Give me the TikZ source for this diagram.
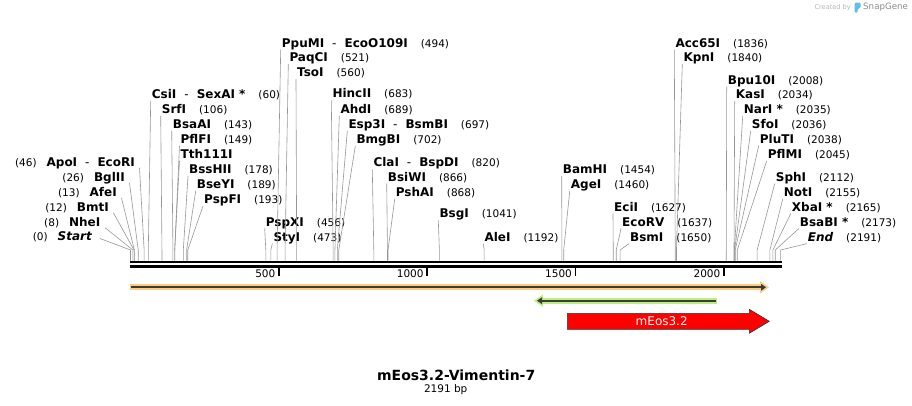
\documentclass[tikz,border=0pt]{standalone}
\usepackage{fontspec}
\setmainfont{DejaVu Sans}
\usepackage{xcolor}
\usetikzlibrary{arrows.meta}
\definecolor{cutgray}{RGB}{150,150,150}
\definecolor{featorange}{RGB}{250,205,130}
\definecolor{featgreen}{RGB}{185,240,130}
\definecolor{featline}{RGB}{60,60,50}
\definecolor{wmgray}{RGB}{180,180,180}
\definecolor{wmblue}{RGB}{95,190,235}
\newcommand{\enz}[1]{{\bfseries#1}}
\newcommand{\cutpos}[1]{{\fontsize{10.5}{12}\selectfont(#1)}}
\newcommand{\alsocut}{\hspace{8pt}{\mdseries-}\hspace{8pt}}
\newcommand{\posgap}{\hspace{13pt}}
\tikzset{
  enzR/.style={anchor=west, inner sep=0pt, text height=8.7pt, text depth=0pt, font=\fontsize{12}{14}\selectfont},
  enzL/.style={anchor=east, inner sep=0pt, text height=8.7pt, text depth=0pt, font=\fontsize{12}{14}\selectfont},
  cutline/.style={draw=cutgray, line width=0.6pt},
  seqline/.style={line width=2.7pt, line cap=butt},
  ticklab/.style={anchor=east, inner sep=0pt, font=\fontsize{10.5}{12}\selectfont}
}

\begin{document}
\begin{tikzpicture}[x=1pt, y=-1pt, line cap=round, line join=round]
	\useasboundingbox (0,0) rectangle (912,406);
	% sequence
	\coordinate (bar) at (130,260.5);
	\draw[seqline] (129.5,262) -- (782,262);
	\draw[seqline] (129.5,266.3) -- (782,266.3);
	\draw[line width=1.6pt, line cap=butt] (278.9,267) -- (278.9,276);
	\draw[line width=1.6pt, line cap=butt] (427.2,267) -- (427.2,276);
	\draw[line width=1.6pt, line cap=butt] (575.5,267) -- (575.5,276);
	\draw[line width=1.6pt, line cap=butt] (723.9,267) -- (723.9,276);
	\node[ticklab] (t500) at (275.5,274) {500};
	\node[ticklab] (t1000) at (423.8,274) {1000};
	\node[ticklab] (t1500) at (572.1,274) {1500};
	\node[ticklab] (t2000) at (720.5,274) {2000};
	% cut sites
	\coordinate (cStart) at ({130.5+0.2967*0},250);
	\coordinate (cNheI) at ({130.5+0.2967*8},250);
	\coordinate (cBmtI) at ({130.5+0.2967*12},250);
	\coordinate (cAfeI) at ({130.5+0.2967*13},250);
	\coordinate (cBglII) at ({130.5+0.2967*26},250);
	\coordinate (cApoI) at ({130.5+0.2967*46},250);
	\coordinate (cCsiI) at ({130.5+0.2967*60},250);
	\coordinate (cSrfI) at ({130.5+0.2967*106},250);
	\coordinate (cBsaAI) at ({130.5+0.2967*143},250);
	\coordinate (cPflFI) at ({130.5+0.2967*149},250);
	\coordinate (cBssHII) at ({130.5+0.2967*178},250);
	\coordinate (cBseYI) at ({130.5+0.2967*189},250);
	\coordinate (cPspFI) at ({130.5+0.2967*193},250);
	\coordinate (cPspXI) at ({130.5+0.2967*456},250);
	\coordinate (cStyI) at ({130.5+0.2967*473},250);
	\coordinate (cPpuMI) at ({130.5+0.2967*494},250);
	\coordinate (cPaqCI) at ({130.5+0.2967*521},250);
	\coordinate (cTsoI) at ({130.5+0.2967*560},250);
	\coordinate (cHincII) at ({130.5+0.2967*683},250);
	\coordinate (cAhdI) at ({130.5+0.2967*689},250);
	\coordinate (cEsp3I) at ({130.5+0.2967*697},250);
	\coordinate (cBmgBI) at ({130.5+0.2967*702},250);
	\coordinate (cClaI) at ({130.5+0.2967*820},250);
	\coordinate (cBsiWI) at ({130.5+0.2967*866},250);
	\coordinate (cPshAI) at ({130.5+0.2967*868},250);
	\coordinate (cBsgI) at ({130.5+0.2967*1041},250);
	\coordinate (cAleI) at ({130.5+0.2967*1192},250);
	\coordinate (cBamHI) at ({130.5+0.2967*1454},250);
	\coordinate (cAgeI) at ({130.5+0.2967*1460},250);
	\coordinate (cEciI) at ({130.5+0.2967*1627},250);
	\coordinate (cEcoRV) at ({130.5+0.2967*1637},250);
	\coordinate (cBsmI) at ({130.5+0.2967*1650},250);
	\coordinate (cAcc65I) at ({130.5+0.2967*1836},250);
	\coordinate (cKpnI) at ({130.5+0.2967*1840},250);
	\coordinate (cBpu10I) at ({130.5+0.2967*2008},250);
	\coordinate (cKasI) at ({130.5+0.2967*2034},250);
	\coordinate (cNarI) at ({130.5+0.2967*2035},250);
	\coordinate (cSfoI) at ({130.5+0.2967*2036},250);
	\coordinate (cPluTI) at ({130.5+0.2967*2038},250);
	\coordinate (cPflMI) at ({130.5+0.2967*2045},250);
	\coordinate (cSphI) at ({130.5+0.2967*2112},250);
	\coordinate (cNotI) at ({130.5+0.2967*2155},250);
	\coordinate (cXbaI) at ({130.5+0.2967*2165},250);
	\coordinate (cBsaBI) at ({130.5+0.2967*2173},250);
	\coordinate (cEnd) at ({130.5+0.2967*2191},250);
	% labels left of the map
	\node[enzL] (ApoI) at (135,162) {\cutpos{46}\hspace{10pt}\enz{ApoI\alsocut EcoRI}};
	\node[enzL] (BglII) at (125,177) {\cutpos{26}\hspace{10pt}\enz{BglII}};
	\node[enzL] (AfeI) at (117,192) {\cutpos{13}\hspace{10pt}\enz{AfeI}};
	\node[enzL] (BmtI) at (109,207) {\cutpos{12}\hspace{10pt}\enz{BmtI}};
	\node[enzL] (NheI) at (100.5,221.7) {\cutpos{8}\hspace{10pt}\enz{NheI}};
	\node[enzL] (Start) at (92,236.5) {\cutpos{0}\hspace{10pt}\enz{\itshape Start}};
	% labels right of their lines
	\node[enzR] (CsiI) at (151.7,94) {\enz{CsiI\alsocut SexAI *}\posgap\cutpos{60}};
	\node[enzR] (SrfI) at (161.7,109.3) {\enz{SrfI}\posgap\cutpos{106}};
	\node[enzR] (BsaAI) at (172.7,124) {\enz{BsaAI}\posgap\cutpos{143}};
	\node[enzR] (PflFI) at (180.5,139) {\enz{PflFI}\posgap\cutpos{149}};
	\node[enzR] (Tth111I) at (180.5,154) {\enz{Tth111I}};
	\node[enzR] (BssHII) at (189,169.3) {\enz{BssHII}\posgap\cutpos{178}};
	\node[enzR] (BseYI) at (196.7,184) {\enz{BseYI}\posgap\cutpos{189}};
	\node[enzR] (PspFI) at (204,199) {\enz{PspFI}\posgap\cutpos{193}};
	\node[enzR] (PspXI) at (265.7,221.7) {\enz{PspXI}\posgap\cutpos{456}};
	\node[enzR] (StyI) at (273.3,236.7) {\enz{StyI}\posgap\cutpos{473}};
	\node[enzR] (PpuMI) at (281.7,42.7) {\enz{PpuMI\alsocut EcoO109I}\posgap\cutpos{494}};
	\node[enzR] (PaqCI) at (289.3,57.3) {\enz{PaqCI}\posgap\cutpos{521}};
	\node[enzR] (TsoI) at (297,72.3) {\enz{TsoI}\posgap\cutpos{560}};
	\node[enzR] (HincII) at (332.3,93.5) {\enz{HincII}\posgap\cutpos{683}};
	\node[enzR] (AhdI) at (340.3,109) {\enz{AhdI}\posgap\cutpos{689}};
	\node[enzR] (Esp3I) at (348.3,124) {\enz{Esp3I\alsocut BsmBI}\posgap\cutpos{697}};
	\node[enzR] (BmgBI) at (356.3,139) {\enz{BmgBI}\posgap\cutpos{702}};
	\node[enzR] (ClaI) at (373.3,162.5) {\enz{ClaI\alsocut BspDI}\posgap\cutpos{820}};
	\node[enzR] (BsiWI) at (387.7,176.7) {\enz{BsiWI}\posgap\cutpos{866}};
	\node[enzR] (PshAI) at (395.7,192) {\enz{PshAI}\posgap\cutpos{868}};
	\node[enzR] (BsgI) at (439.3,213.5) {\enz{BsgI}\posgap\cutpos{1041}};
	\node[enzR] (AleI) at (484.3,237) {\enz{AleI}\posgap\cutpos{1192}};
	\node[enzR] (BamHI) at (562.7,169.3) {\enz{BamHI}\posgap\cutpos{1454}};
	\node[enzR] (AgeI) at (570.7,184.3) {\enz{AgeI}\posgap\cutpos{1460}};
	\node[enzR] (EciI) at (614,206.7) {\enz{EciI}\posgap\cutpos{1627}};
	\node[enzR] (EcoRV) at (622,221.7) {\enz{EcoRV}\posgap\cutpos{1637}};
	\node[enzR] (BsmI) at (630,236.7) {\enz{BsmI}\posgap\cutpos{1650}};
	\node[enzR] (Acc65I) at (675.3,42.7) {\enz{Acc65I}\posgap\cutpos{1836}};
	\node[enzR] (KpnI) at (683.3,57.3) {\enz{KpnI}\posgap\cutpos{1840}};
	\node[enzR] (Bpu10I) at (727.7,80) {\enz{Bpu10I}\posgap\cutpos{2008}};
	\node[enzR] (KasI) at (735.7,94.3) {\enz{KasI}\posgap\cutpos{2034}};
	\node[enzR] (NarI) at (743.7,109.3) {\enz{NarI *}\posgap\cutpos{2035}};
	\node[enzR] (SfoI) at (751.7,124) {\enz{SfoI}\posgap\cutpos{2036}};
	\node[enzR] (PluTI) at (759.7,138.7) {\enz{PluTI}\posgap\cutpos{2038}};
	\node[enzR] (PflMI) at (767.7,154) {\enz{PflMI}\posgap\cutpos{2045}};
	\node[enzR] (SphI) at (775.7,176.7) {\enz{SphI}\posgap\cutpos{2112}};
	\node[enzR] (NotI) at (783.7,192) {\enz{NotI}\posgap\cutpos{2155}};
	\node[enzR] (XbaI) at (791.7,206.7) {\enz{XbaI *}\posgap\cutpos{2165}};
	\node[enzR] (BsaBI) at (799.7,221.7) {\enz{BsaBI *}\posgap\cutpos{2173}};
	\node[enzR] (End) at (807.7,236.7) {\enz{\itshape End}\posgap\cutpos{2191}};
	% lines from labels to the sites
	\draw[cutline] ([shift={(4.5,6)}]ApoI.east) -- (cApoI) -- (cApoI |- bar);
	\draw[cutline] ([shift={(4.5,6)}]BglII.east) -- (cBglII) -- (cBglII |- bar);
	\draw[cutline] ([shift={(4.5,6)}]AfeI.east) -- (cAfeI) -- (cAfeI |- bar);
	\draw[cutline] ([shift={(4.5,6)}]BmtI.east) -- (cBmtI) -- (cBmtI |- bar);
	\draw[cutline] ([shift={(4.5,6)}]NheI.east) -- (cNheI) -- (cNheI |- bar);
	\draw[cutline] ([shift={(8,2)}]Start.east) -- (cStart) -- (cStart |- bar);
	\draw[cutline] ([shift={(-1,7)}]CsiI.west) -- (cCsiI) -- (cCsiI |- bar);
	\draw[cutline] ([shift={(-1,7)}]SrfI.west) -- (cSrfI) -- (cSrfI |- bar);
	\draw[cutline] ([shift={(-1,7)}]BsaAI.west) -- (cBsaAI) -- (cBsaAI |- bar);
	\draw[cutline] ([shift={(-1,7)}]PflFI.west) -- (cPflFI) -- (cPflFI |- bar);
	\draw[cutline] ([shift={(-1,7)}]Tth111I.west) -- (cPflFI);
	\draw[cutline] ([shift={(-1,7)}]BssHII.west) -- (cBssHII) -- (cBssHII |- bar);
	\draw[cutline] ([shift={(-1,7)}]BseYI.west) -- (cBseYI) -- (cBseYI |- bar);
	\draw[cutline] ([shift={(-1,7)}]PspFI.west) -- (cPspFI) -- (cPspFI |- bar);
	\draw[cutline] ([shift={(-1,7)}]PspXI.west) -- (cPspXI) -- (cPspXI |- bar);
	\draw[cutline] ([shift={(-1,7)}]StyI.west) -- (cStyI) -- (cStyI |- bar);
	\draw[cutline] ([shift={(-1,7)}]PpuMI.west) -- (cPpuMI) -- (cPpuMI |- bar);
	\draw[cutline] ([shift={(-1,7)}]PaqCI.west) -- (cPaqCI) -- (cPaqCI |- bar);
	\draw[cutline] ([shift={(-1,7)}]TsoI.west) -- (cTsoI) -- (cTsoI |- bar);
	\draw[cutline] ([shift={(-1,7)}]HincII.west) -- (cHincII) -- (cHincII |- bar);
	\draw[cutline] ([shift={(-1,7)}]AhdI.west) -- (cAhdI) -- (cAhdI |- bar);
	\draw[cutline] ([shift={(-1,7)}]Esp3I.west) -- (cEsp3I) -- (cEsp3I |- bar);
	\draw[cutline] ([shift={(-1,7)}]BmgBI.west) -- (cBmgBI) -- (cBmgBI |- bar);
	\draw[cutline] ([shift={(-1,7)}]ClaI.west) -- (cClaI) -- (cClaI |- bar);
	\draw[cutline] ([shift={(-1,7)}]BsiWI.west) -- (cBsiWI) -- (cBsiWI |- bar);
	\draw[cutline] ([shift={(-1,7)}]PshAI.west) -- (cPshAI) -- (cPshAI |- bar);
	\draw[cutline] ([shift={(-1,7)}]BsgI.west) -- (cBsgI) -- (cBsgI |- bar);
	\draw[cutline] ([shift={(-1,7)}]AleI.west) -- (cAleI) -- (cAleI |- bar);
	\draw[cutline] ([shift={(-1,7)}]BamHI.west) -- (cBamHI) -- (cBamHI |- bar);
	\draw[cutline] ([shift={(-1,7)}]AgeI.west) -- (cAgeI) -- (cAgeI |- bar);
	\draw[cutline] ([shift={(-1,7)}]EciI.west) -- (cEciI) -- (cEciI |- bar);
	\draw[cutline] ([shift={(-1,7)}]EcoRV.west) -- (cEcoRV) -- (cEcoRV |- bar);
	\draw[cutline] ([shift={(-1,7)}]BsmI.west) -- (cBsmI) -- (cBsmI |- bar);
	\draw[cutline] ([shift={(-1,7)}]Acc65I.west) -- (cAcc65I) -- (cAcc65I |- bar);
	\draw[cutline] ([shift={(-1,7)}]KpnI.west) -- (cKpnI) -- (cKpnI |- bar);
	\draw[cutline] ([shift={(-1,7)}]Bpu10I.west) -- (cBpu10I) -- (cBpu10I |- bar);
	\draw[cutline] ([shift={(-1,7)}]KasI.west) -- (cKasI) -- (cKasI |- bar);
	\draw[cutline] ([shift={(-1,7)}]NarI.west) -- (cNarI) -- (cNarI |- bar);
	\draw[cutline] ([shift={(-1,7)}]SfoI.west) -- (cSfoI) -- (cSfoI |- bar);
	\draw[cutline] ([shift={(-1,7)}]PluTI.west) -- (cPluTI) -- (cPluTI |- bar);
	\draw[cutline] ([shift={(-1,7)}]PflMI.west) -- (cPflMI) -- (cPflMI |- bar);
	\draw[cutline] ([shift={(-1,7)}]SphI.west) -- (cSphI) -- (cSphI |- bar);
	\draw[cutline] ([shift={(-1,7)}]NotI.west) -- (cNotI) -- (cNotI |- bar);
	\draw[cutline] ([shift={(-1,7)}]XbaI.west) -- (cXbaI) -- (cXbaI |- bar);
	\draw[cutline] ([shift={(-1,7)}]BsaBI.west) -- (cBsaBI) -- (cBsaBI |- bar);
	\draw[cutline] ([shift={(-1,7)}]End.west) -- (cEnd) -- (cEnd |- bar);
	% features
	\draw[featorange, line width=6pt, line cap=butt, -{Triangle[length=9pt,width=12pt]}] (130,287.3) -- (769,287.3);
	\draw[featline, line width=2pt, line cap=butt, -{Triangle[length=5pt,width=6.5pt]}] (131,287.3) -- (766,287.3);
	\draw[featgreen, line width=6pt, line cap=butt, -{Triangle[length=9pt,width=12pt]}] (717.3,300.7) -- (534,300.7);
	\draw[featline, line width=2pt, line cap=butt, -{Triangle[length=5pt,width=6.5pt]}] (716.3,300.7) -- (537,300.7);
	\draw[fill=red, draw=black!80, line width=0.6pt] (567.3,313.3) -- (749.3,313.3) -- (749.3,309.3) -- (769.3,321.3) -- (749.3,333.3) -- (749.3,329.3) -- (567.3,329.3) -- cycle;
	\node[text=white, inner sep=0pt, font=\fontsize{12}{14}\selectfont] (mEos) at (661.7,321) {mEos3.2};
	% title
	\node[inner sep=0pt, font=\bfseries\fontsize{14}{16}\selectfont] (title) at (456.2,375) {mEos3.2-Vimentin-7};
	\node[inner sep=0pt, font=\fontsize{10.5}{12}\selectfont] (length) at (445.7,390) {2191 bp};
	% watermark
	\node[anchor=west, inner sep=0pt, text=wmgray, font=\fontsize{6.6}{8}\selectfont] (created) at (814.3,7.5) {Created by};
	\fill[wmblue, rounded corners=1.2pt] (854.5,2.7) -- (860.7,2.7) -- (860.7,7.8) -- (857.6,8.8) -- (857.6,12.7) -- (854.5,12.7) -- cycle;
	\node[anchor=west, inner sep=0pt, text=black!45, font=\fontsize{8.7}{10}\selectfont] (snapgene) at (863,7.5) {SnapGene};
\end{tikzpicture}
\end{document}
